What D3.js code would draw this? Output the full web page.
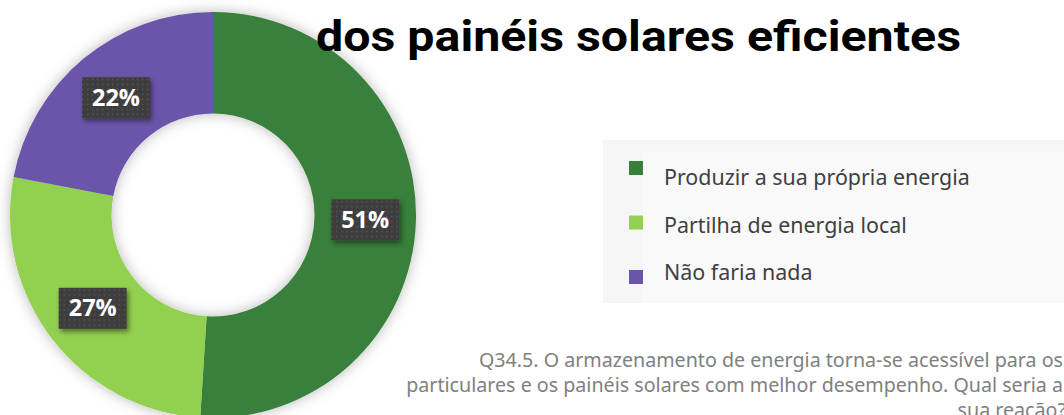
<!DOCTYPE html>
<html>
<head>
<meta charset="utf-8">
<script src="https://cdn.jsdelivr.net/npm/d3@7"></script>
<style>
  html, body { margin: 0; padding: 0; background: #ffffff; }
  svg { display: block; }
</style>
</head>
<body>
<svg id="chart" width="1064" height="415"></svg>
<script>
// Survey answers and their shares (%)
const categories = ["Produzir a sua própria energia", "Partilha de energia local", "Não faria nada"];
const shares = [51, 27, 22];
const colors = ["#37803a", "#92d050", "#6b55ab"];
const titleText = "dos painéis solares eficientes";
const noteLines = [
  "Q34.5. O armazenamento de energia torna-se acessível para os",
  "particulares e os painéis solares com melhor desempenho. Qual seria a",
  "sua reação?"
];

const svg = d3.select("#chart");
const defs = svg.append("defs");

// Soft halo around the ring
const halo = defs.append("filter").attr("id", "halo")
  .attr("x", "-20%").attr("y", "-20%").attr("width", "140%").attr("height", "140%");
halo.append("feDropShadow").attr("dx", 0).attr("dy", 0)
  .attr("stdDeviation", 7).attr("flood-color", "#000").attr("flood-opacity", 0.28);

// Shadow under the value badges
const badgeShadow = defs.append("filter").attr("id", "badgeShadow")
  .attr("x", "-30%").attr("y", "-30%").attr("width", "160%").attr("height", "170%");
badgeShadow.append("feDropShadow").attr("dx", 2).attr("dy", 3)
  .attr("stdDeviation", 2.5).attr("flood-color", "#000").attr("flood-opacity", 0.45);

// Dotted texture on the badges
const dots = defs.append("pattern").attr("id", "dots")
  .attr("patternUnits", "userSpaceOnUse").attr("width", 5).attr("height", 5);
dots.append("rect").attr("width", 5).attr("height", 5).attr("fill", "#3e3e3e");
dots.append("rect").attr("x", 1).attr("y", 1).attr("width", 1.4).attr("height", 1.4).attr("fill", "#5a5a5a");

// Donut
const cx = 213, cy = 215, outerR = 203, innerR = 101.5;
const pie = d3.pie().sort(null).value(d => d)(shares);
const arc = d3.arc().innerRadius(innerR).outerRadius(outerR);

const donut = svg.append("g").attr("transform", `translate(${cx},${cy})`);
donut.append("g").attr("filter", "url(#halo)")
  .selectAll("path").data(pie).join("path")
  .attr("d", arc)
  .attr("fill", (d, i) => colors[i]);

// Legend panel
const legend = svg.append("g");
legend.append("rect").attr("x", 603).attr("y", 140).attr("width", 461).attr("height", 163).attr("fill", "#f6f6f6");
legend.append("rect").attr("x", 643).attr("y", 152).attr("width", 421).attr("height", 151).attr("fill", "#f9f9f9");

const legendFont = "'Noto Sans', sans-serif";
const items = legend.selectAll("g.item").data(categories).join("g").attr("class", "item");
items.append("rect")
  .attr("x", 629).attr("y", (d, i) => 161 + i * 54.5)
  .attr("width", 14).attr("height", 14)
  .attr("fill", (d, i) => colors[i]);
const legendTexts = items.append("text")
  .attr("x", 664).attr("y", (d, i) => 185 + i * 47.5)
  .attr("font-family", legendFont).attr("font-size", 20)
  .attr("fill", "#404040")
  .text(d => d);
// size the legend type so the longest entry spans its column
{
  const w = legendTexts.nodes()[0].getComputedTextLength();
  legendTexts.attr("font-size", 20 * 306 / w);
}

// Title line (drawn over the ring), slightly condensed
svg.append("text")
  .attr("x", 316).attr("y", 51)
  .attr("font-family", "Roboto, 'Liberation Sans', sans-serif")
  .attr("font-weight", 700).attr("font-size", 43)
  .attr("textLength", 645).attr("lengthAdjust", "spacingAndGlyphs")
  .attr("fill", "#000")
  .text(titleText);

// Value badges at slice centroids
const badges = svg.append("g").attr("transform", `translate(${cx},${cy})`)
  .selectAll("g").data(pie).join("g")
  .attr("transform", d => `translate(${arc.centroid(d)})`);
badges.append("rect")
  .attr("x", -34).attr("y", -20.5).attr("width", 68).attr("height", 41)
  .attr("fill", "url(#dots)").attr("filter", "url(#badgeShadow)");
const badgeText = badges.append("text")
  .attr("text-anchor", "middle").attr("y", 8)
  .attr("font-family", "'Open Sans', sans-serif")
  .attr("font-weight", 700).attr("font-size", 22)
  .attr("fill", "#ffffff")
  .text(d => d.data + "%");
{
  const w = badgeText.nodes()[2].getComputedTextLength();
  badgeText.attr("font-size", 22 * 48 / w);
}

// Question footnote, right aligned
const note = svg.append("g").selectAll("text").data(noteLines).join("text")
  .attr("x", (d, i) => i === 2 ? 1066 : 1063)
  .attr("y", (d, i) => 367 + i * 25)
  .attr("text-anchor", "end")
  .attr("font-family", "'Noto Sans', sans-serif")
  .attr("font-size", 18)
  .attr("fill", "#808080")
  .text(d => d);
{
  const w = note.nodes()[1].getComputedTextLength();
  note.attr("font-size", 18 * 657 / w);
}
</script>
</body>
</html>
